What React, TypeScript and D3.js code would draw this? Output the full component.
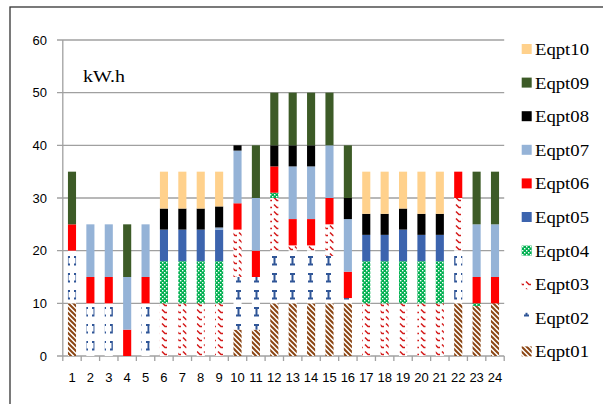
import React from 'react';
import * as d3 from 'd3';

const categories = ['1','2','3','4','5','6','7','8','9','10','11','12','13','14','15','16','17','18','19','20','21','22','23','24'];
const yTicks = [0, 10, 20, 30, 40, 50, 60];

const eqpt01 = [10,0,0,0,0, 0,0,0,0,5, 5,10,10,10,10, 10,0,0,0,0, 0,10,9.5,10];
const eqpt02 = [10,10,10,0,10, 0,0,0,0,10, 10,10,10,10,9, 1,0,0,0,0, 0,10,0,0];
const eqpt03 = [0,0,0,0,0, 10,10,10,10,9, 0,10,1,1,6, 0,10,10,10,10, 10,10,0,0];
const eqpt04 = [0,0,0,0,0, 8,8,8,8,0, 0,1,0,0,0, 0,8,8,8,8, 8,0,0.5,0];
const eqpt05 = [0,0,0,0,0, 6,6,6,6,0, 0,0,0,0,0, 0,5,5,6,5, 5,0,0,0];
const eqpt06 = [5,5,5,5,5, 0,0,0,0,5, 5,5,5,5,5, 5,0,0,0,0, 0,5,5,5];
const eqpt07 = [0,10,10,10,10, 0,0,0,0.4,10, 10,0,10,10,10, 10,0,0,0,0, 0,0,10,10];
const eqpt08 = [0,0,0,0,0, 4,4,4,4,1, 0,4,4,4,0, 4,4,4,4,4, 4,0,0,0];
const eqpt09 = [10,0,0,10,0, 0,0,0,0,0, 10,10,10,10,10, 10,0,0,0,0, 0,0,10,10];
const eqpt10 = [0,0,0,0,0, 7,7,7,6.6,0, 0,0,0,0,0, 0,8,8,7,8, 8,0,0,0];

const seriesNames = ['Eqpt01','Eqpt02','Eqpt03','Eqpt04','Eqpt05','Eqpt06','Eqpt07','Eqpt08','Eqpt09','Eqpt10'];
const seriesValues = [eqpt01, eqpt02, eqpt03, eqpt04, eqpt05, eqpt06, eqpt07, eqpt08, eqpt09, eqpt10];

const fills: Record<string, string> = {
  Eqpt01: 'url(#p01)',
  Eqpt02: 'url(#p02)',
  Eqpt03: 'url(#p03)',
  Eqpt04: 'url(#p04)',
  Eqpt05: '#3C64AE',
  Eqpt06: '#FF0000',
  Eqpt07: '#95B3D7',
  Eqpt08: '#000000',
  Eqpt09: '#3D5B27',
  Eqpt10: '#FFD18C',
};

const table = categories.map((c, i) => {
  const row: any = { cat: c };
  seriesNames.forEach((s, k) => { row[s] = seriesValues[k][i]; });
  return row;
});

export default function App() {
  const W = 603, H = 404;
  const x = d3.scaleBand<string>().domain(categories).range([62.8, 504.2]).paddingInner(0.56).paddingOuter(0.28);
  const y = d3.scaleLinear().domain([0, 60]).range([356, 40]);
  const stacked = d3.stack<any>().keys(seriesNames)(table);
  const step = x.step();
  const x0 = 62.8;
  const x1 = 504.2;
  const sans = '"Liberation Sans", Arial, sans-serif';
  const serif = '"Liberation Serif", "Times New Roman", serif';
  const legendOrder = [...seriesNames].reverse();

  return (
    <svg width={W} height={H} style={{ position: 'absolute', left: 0, top: 0, background: '#fff' }}>
      <defs>
        <pattern id="p01" patternUnits="userSpaceOnUse" width="5" height="5">
          <rect width="5" height="5" fill="#fff" />
          <path d="M0,0 L5,5 M-1,4 L1,6 M4,-1 L6,1" stroke="#8B4513" strokeWidth="2" />
        </pattern>
        <pattern id="p02" patternUnits="userSpaceOnUse" width="9" height="17">
          <rect width="9" height="17" fill="#fff" />
          <path d="M2,2 H7 M4.5,2 V9.5 M2,9.5 H7" stroke="#2F5597" strokeWidth="2" fill="none" />
        </pattern>
        <pattern id="p03" patternUnits="userSpaceOnUse" width="7" height="7">
          <rect width="7" height="7" fill="#fff" />
          <path d="M1,1.5 L4,4.5 L6,4.5" stroke="#D41A1A" strokeWidth="1.5" fill="none" />
        </pattern>
        <pattern id="p04" patternUnits="userSpaceOnUse" width="4" height="4">
          <rect width="4" height="4" fill="#00B050" />
          <rect x="0" y="0" width="1.4" height="1.4" fill="#fff" />
          <rect x="2" y="2" width="1.4" height="1.4" fill="#fff" />
        </pattern>
      </defs>

      <rect x={10} y={7} width={700} height={500} fill="none" stroke="#333" strokeWidth={1.3} />

      {yTicks.map(t => (
        <g key={t}>
          <line x1={57} x2={x1} y1={y(t)} y2={y(t)} stroke="#A0A0A0" strokeWidth={1.3} />
          <text x={47} y={y(t) + 4.8} textAnchor="end" fontFamily={sans} fontSize={13} fill="#000">{t}</text>
        </g>
      ))}
      <line x1={x0} x2={x0} y1={y(60)} y2={y(0)} stroke="#A0A0A0" strokeWidth={1.3} />
      {d3.range(categories.length + 1).map(i => (
        <line key={i} x1={x0 + i * step} x2={x0 + i * step} y1={y(0)} y2={y(0) + 5} stroke="#A0A0A0" strokeWidth={1.3} />
      ))}

      {stacked.map(layer => (
        <g key={layer.key} fill={fills[layer.key]}>
          {layer.map((d, i) => {
            const h = y(d[0]) - y(d[1]);
            if (h <= 0) return null;
            return <rect key={i} x={x(categories[i])} y={y(d[1])} width={x.bandwidth()} height={h} />;
          })}
        </g>
      ))}

      {categories.map(c => (
        <text key={c} x={(x(c) as number) + x.bandwidth() / 2} y={381.5} textAnchor="middle" fontFamily={sans} fontSize={13} fill="#000">{c}</text>
      ))}

      <text x={83} y={81.7} fontFamily={serif} fontSize={17} textLength={42} lengthAdjust="spacingAndGlyphs" fill="#000">kW.h</text>

      {legendOrder.map((s, i) => {
        const cy = 49 + i * 33.6;
        return (
          <g key={s}>
            <rect x={521.7} y={cy - 5} width={10} height={10} fill={fills[s]} />
            <text x={535} y={cy + 6} fontFamily={serif} fontSize={17} textLength={54} lengthAdjust="spacingAndGlyphs" fill="#000">{s}</text>
          </g>
        );
      })}
    </svg>
  );
}
